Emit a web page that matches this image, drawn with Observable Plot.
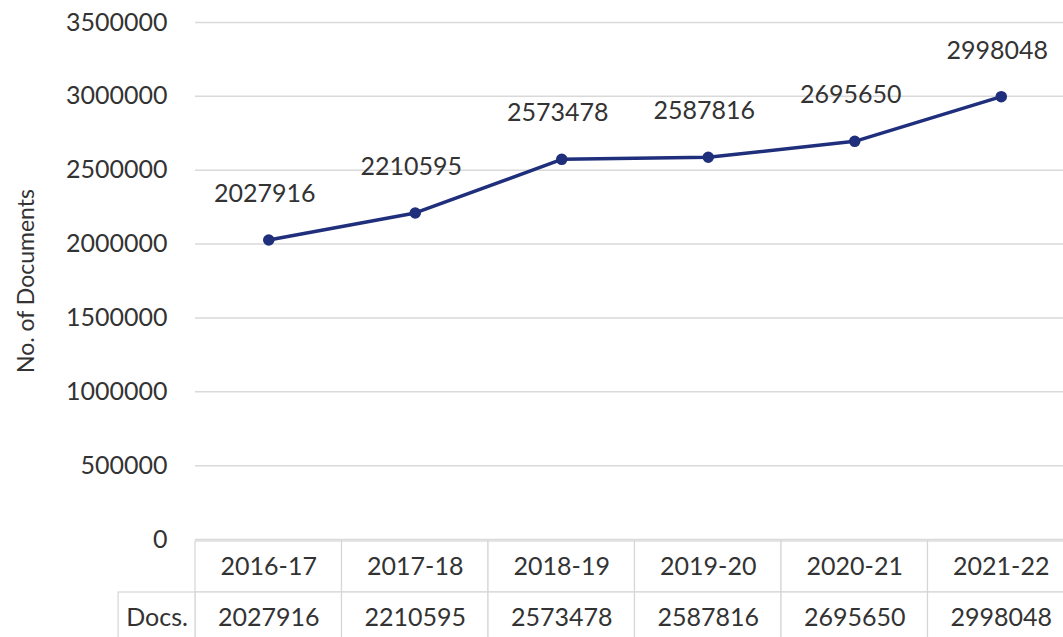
<!DOCTYPE html>
<html>
<head>
<meta charset="utf-8">
<script src="https://cdn.jsdelivr.net/npm/d3@7"></script>
<script src="https://cdn.jsdelivr.net/npm/@observablehq/plot@0.6"></script>
<style>
  html, body { margin: 0; padding: 0; background: #fff; overflow: hidden; }
  #chart svg { display: block; }
</style>
</head>
<body>
<div id="chart"></div>
<script>
// ---- data ----
const categories = ["2016-17", "2017-18", "2018-19", "2019-20", "2020-21", "2021-22"];
const docs = [2027916, 2210595, 2573478, 2587816, 2695650, 2998048];
const yTicks = [0, 500000, 1000000, 1500000, 2000000, 2500000, 3000000, 3500000];
const rowHeader = "Docs.";
const yTitle = "No. of Documents";

// ---- styling ----
const font = "Lato, 'Open Sans', sans-serif";
const textColor = "#333333";
const lineColor = "#1f2f7c";
const gridColor = "#d9d9d9";
const tableColor = "#d6d6d6";
const xRange = [195, 1074];      // columns extend slightly past the right edge (cropped)
const docsColStart = -0.525;     // header column width, in column units

const data = categories.map((c, i) => ({i, period: c, value: docs[i]}));

const main = Plot.plot({
  width: 1063,
  height: 540,
  marginLeft: 195,
  marginRight: 0,
  marginTop: 22,
  marginBottom: 1,
  style: {overflow: "visible", fontFamily: font, fontSize: "25px", color: textColor, background: "transparent"},
  x: {type: "linear", domain: [0, 6], range: xRange, axis: null},
  y: {domain: [0, 3500000], range: [539, 22], axis: null},
  marks: [
    Plot.ruleY(yTicks, {stroke: gridColor, strokeWidth: 1.5}),
    Plot.axisY({ticks: yTicks, tickSize: 0, tickPadding: 28, tickFormat: d => String(d), label: null, fontSize: 25, fill: textColor}),
    Plot.text([yTitle], {frameAnchor: "left", textAnchor: "middle", rotate: -90, dx: -169, fontSize: 23, fill: textColor}),
    Plot.line(data, {x: d => d.i + 0.5, y: "value", stroke: lineColor, strokeWidth: 3.5}),
    Plot.dot(data, {x: d => d.i + 0.5, y: "value", r: 5, fill: lineColor, stroke: lineColor}),
    Plot.text(data, {x: d => d.i + 0.5, y: "value", text: d => String(d.value), dx: -4, dy: -46, fontSize: 25, fill: textColor})
  ]
});

const table = Plot.plot({
  width: 1063,
  height: 104,
  margin: 0,
  style: {fontFamily: font, fontSize: "25px", color: textColor, background: "transparent"},
  x: {type: "linear", domain: [0, 6], range: xRange, axis: null},
  y: {type: "band", domain: ["period", "docs"], range: [0.5, 104], padding: 0, axis: null},
  marks: [
    Plot.barX(categories, {x1: (d, i) => i, x2: (d, i) => i + 1, y: () => "period", fill: "white", stroke: tableColor, strokeWidth: 1.2}),
    Plot.barX(categories, {x1: (d, i) => i, x2: (d, i) => i + 1, y: () => "docs", fill: "white", stroke: tableColor, strokeWidth: 1.2}),
    Plot.barX([rowHeader], {x1: docsColStart, x2: 0, y: () => "docs", fill: "white", stroke: tableColor, strokeWidth: 1.2}),
    Plot.text(categories, {x: (d, i) => i + 0.5, y: () => "period", text: d => d, fill: textColor}),
    Plot.text(docs, {x: (d, i) => i + 0.5, y: () => "docs", text: d => String(d), fill: textColor}),
    Plot.text([rowHeader], {x: docsColStart / 2, y: () => "docs", text: d => d, fill: textColor})
  ]
});

const root = document.getElementById("chart");
root.appendChild(main);
root.appendChild(table);
</script>
</body>
</html>
